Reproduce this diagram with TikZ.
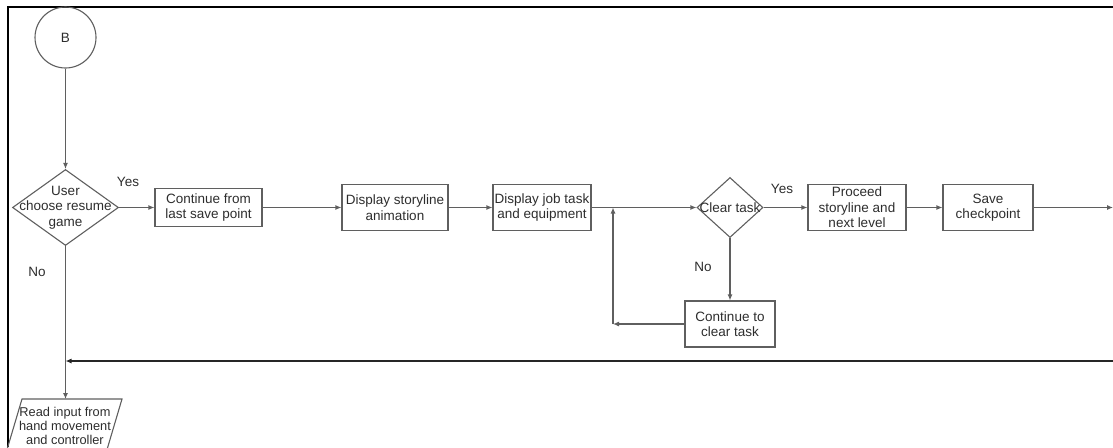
\documentclass[tikz,border=0pt]{standalone}
\usepackage{fontspec}
\setmainfont{Liberation Sans}
\usetikzlibrary{shapes.geometric,arrows.meta}
\definecolor{lc}{RGB}{95,95,95}
\definecolor{tc}{RGB}{45,45,45}
\begin{document}
\begin{tikzpicture}[x=1pt,y=-1pt,
 every node/.style={font=\fontsize{13.5}{15.5}\selectfont, text=tc},
 box/.style={draw=lc, line width=1.1pt, rectangle, inner sep=0pt, align=center},
 dec/.style={draw=lc, line width=1.1pt, diamond, inner sep=0pt},
 conn/.style={draw=lc, line width=1.1pt},
 arr/.style={conn, -{Latex[length=6pt,width=5pt]}},
 darr/.style={draw=black!85, line width=1.1pt, -{Latex[length=6pt,width=5pt]}},
 lbl/.style={inner sep=0pt, align=center}]
\useasboundingbox (0,0) rectangle (1113,447);
\clip (0,0) rectangle (1113,447);
% frame
\draw[black, line width=1.5pt] (8,447) -- (8,7) -- (1113,7);
% nodes
\node[draw=lc, line width=1.1pt, circle, minimum size=61pt, inner sep=0pt] (B) at (65.5,37.5) {B};
\node[dec, minimum width=106pt, minimum height=76pt] (d1) at (65.5,207.5) {};
\node[lbl] (d1t) at (65.5,207.5) {User\\choose resume\\game};
\node[box, minimum width=107pt, minimum height=38pt] (b1) at (208.5,207.5) {Continue from\\last save point};
\node[box, minimum width=106pt, minimum height=46pt] (b2) at (395,207.5) {Display storyline\\animation};
\node[box, minimum width=98pt, minimum height=46pt] (b3) at (542,207.5) {Display job task\\and equipment};
\node[dec, minimum width=66pt, minimum height=60pt] (d2) at (730,207.5) {};
\node[lbl] (d2t) at (730,207.5) {Clear task};
\node[box, minimum width=98pt, minimum height=46pt] (b4) at (857,207.5) {Proceed\\storyline and\\next level};
\node[box, minimum width=90pt, minimum height=46pt] (b5) at (988,207.5) {Save\\checkpoint};
\node[box, minimum width=90pt, minimum height=46pt] (b6) at (730,324) {Continue to\\clear task};
% parallelogram
\draw[conn] (22,399) -- (122,399) -- (106,453) -- (6,453) -- cycle;
\node[lbl, font=\fontsize{12.8}{14}\selectfont] (rd) at (65,426) {Read input from\\hand movement\\and controller};
\coordinate (rdtop) at (65.5,399);
% labels
\node[lbl] (y1) at (128,182) {Yes};
\node[lbl] (n1) at (37,272) {No};
\node[lbl] (y2) at (782,189) {Yes};
\node[lbl] (n2) at (703,267) {No};
% coordinates
\coordinate (j) at (613,207.5);
\coordinate (c) at (613,324);
\coordinate (e1) at (1113,207.5);
\coordinate (r1) at (1113,361);
\coordinate (m) at (65.5,361);
% connectors
\draw[arr] (B.south) -- (d1.north);
\draw[arr] (d1.east) -- (b1.west);
\draw[arr] (b1.east) -- (b2.west);
\draw[arr] (b2.east) -- (b3.west);
\draw[arr] (b3.east) -- (d2.west);
\draw[arr] (d2.east) -- (b4.west);
\draw[arr] (b4.east) -- (b5.west);
\draw[arr] (b5.east) -- (e1);
\draw[arr] (d2.south) -- (b6.north);
\draw[arr] (b6.west) -- (c);
\draw[arr] (c) -- (j);
\draw[arr] (d1.south) -- (rdtop);
\draw[darr] (r1) -- (m);
\end{tikzpicture}
\end{document}
